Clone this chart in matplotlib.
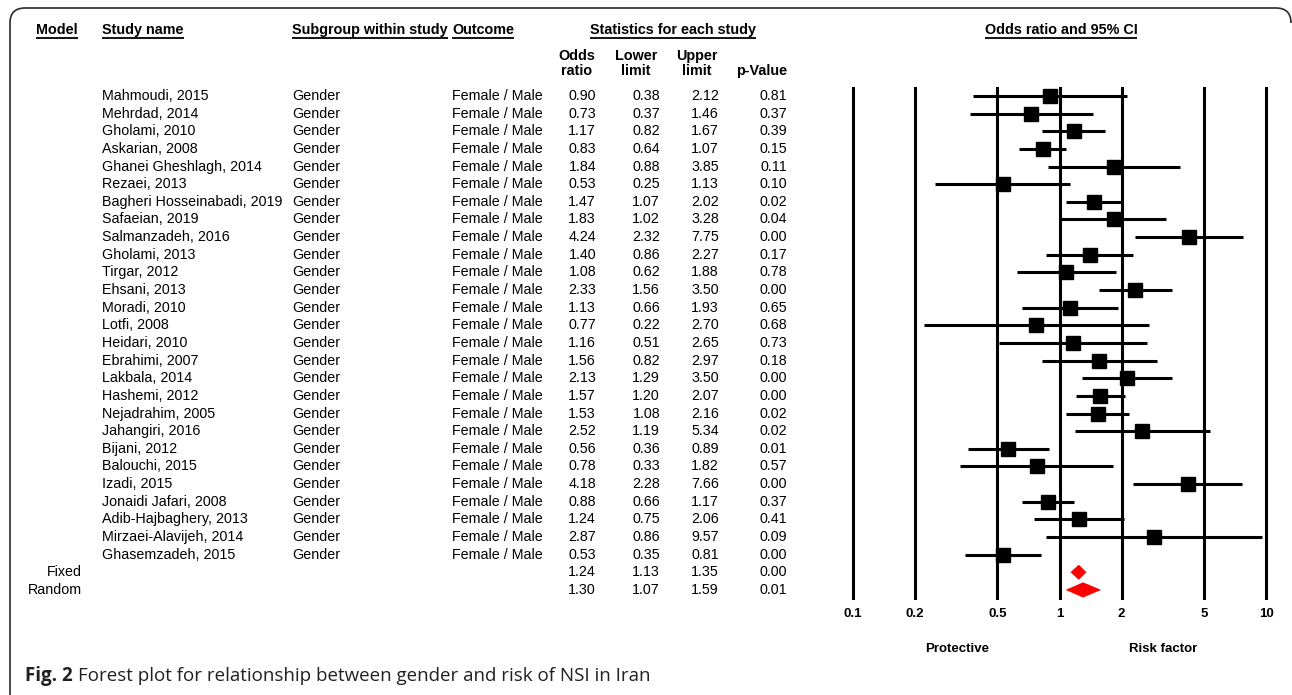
import numpy as np
import matplotlib
matplotlib.use("Agg")
import matplotlib.pyplot as plt
from matplotlib.patches import PathPatch, Polygon
from matplotlib.path import Path
from matplotlib.ticker import NullLocator

plt.rcParams["font.family"] = "Liberation Sans"

# ── study data ────────────────────────────────────────────────────────────────
studies = [
    "Mahmoudi, 2015", "Mehrdad, 2014", "Gholami, 2010", "Askarian, 2008",
    "Ghanei Gheshlagh, 2014", "Rezaei, 2013", "Bagheri Hosseinabadi, 2019",
    "Safaeian, 2019", "Salmanzadeh, 2016", "Gholami, 2013", "Tirgar, 2012",
    "Ehsani, 2013", "Moradi, 2010", "Lotfi, 2008", "Heidari, 2010",
    "Ebrahimi, 2007", "Lakbala, 2014", "Hashemi, 2012", "Nejadrahim, 2005",
    "Jahangiri, 2016", "Bijani, 2012", "Balouchi, 2015", "Izadi, 2015",
    "Jonaidi Jafari, 2008", "Adib-Hajbaghery, 2013", "Mirzaei-Alavijeh, 2014",
    "Ghasemzadeh, 2015",
]
subgroup = "Gender"
outcome = "Female / Male"
odds = [0.90, 0.73, 1.17, 0.83, 1.84, 0.53, 1.47, 1.83, 4.24, 1.40, 1.08,
        2.33, 1.13, 0.77, 1.16, 1.56, 2.13, 1.57, 1.53, 2.52, 0.56, 0.78,
        4.18, 0.88, 1.24, 2.87, 0.53]
lower = [0.38, 0.37, 0.82, 0.64, 0.88, 0.25, 1.07, 1.02, 2.32, 0.86, 0.62,
         1.56, 0.66, 0.22, 0.51, 0.82, 1.29, 1.20, 1.08, 1.19, 0.36, 0.33,
         2.28, 0.66, 0.75, 0.86, 0.35]
upper = [2.12, 1.46, 1.67, 1.07, 3.85, 1.13, 2.02, 3.28, 7.75, 2.27, 1.88,
         3.50, 1.93, 2.70, 2.65, 2.97, 3.50, 2.07, 2.16, 5.34, 0.89, 1.82,
         7.66, 1.17, 2.06, 9.57, 0.81]
pvals = [0.81, 0.37, 0.39, 0.15, 0.11, 0.10, 0.02, 0.04, 0.00, 0.17, 0.78,
         0.00, 0.65, 0.68, 0.73, 0.18, 0.00, 0.00, 0.02, 0.02, 0.01, 0.57,
         0.00, 0.37, 0.41, 0.09, 0.00]

models = ["Fixed", "Random"]
pooled_odds = [1.24, 1.30]
pooled_lower = [1.13, 1.07]
pooled_upper = [1.35, 1.59]
pooled_p = [0.00, 0.01]

tick_vals = [0.1, 0.2, 0.5, 1, 2, 5, 10]
tick_labels = ["0.1", "0.2", "0.5", "1", "2", "5", "10"]

# ── layout (pixels) ───────────────────────────────────────────────────────────
W, H = 1292, 695
ROW0, ROWH = 96, 17.64          # first row centre, row pitch
PX_L, PX_R = 853, 1266          # x of 0.1 and 10 on the plot
V_TOP, V_BOT = 88, 598          # vertical reference lines
FS = 10.3

fig = plt.figure(figsize=(W / 100, H / 100), dpi=100)
ax_t = fig.add_axes([0, 0, 1, 1])
ax_t.set_xlim(0, W)
ax_t.set_ylim(H, 0)
ax_t.axis("off")


def row_y(i):
    return ROW0 + i * ROWH


# open frame: left edge, top edge and the two rounded top corners
frame = Path(
    [(10, 700), (10, 23), (10, 8), (25, 8), (1276, 8), (1291, 8), (1291, 23)],
    [Path.MOVETO, Path.LINETO, Path.CURVE3, Path.CURVE3, Path.LINETO,
     Path.CURVE3, Path.CURVE3])
ax_t.add_patch(PathPatch(frame, fill=False, ec="#2a2a2a", lw=1.2))

# ── table headers ─────────────────────────────────────────────────────────────
hdr = dict(fontsize=10.4, fontweight="bold", va="center")
underlined = [
    ax_t.text(36, 30, "Model", ha="left", **hdr),
    ax_t.text(102, 30, "Study name", ha="left", **hdr),
    ax_t.text(292, 30, "Subgroup within study", ha="left", **hdr),
    ax_t.text(452, 30, "Outcome", ha="left", **hdr),
    ax_t.text(673, 30, "Statistics for each study", ha="center", **hdr),
    ax_t.text(1061, 30, "Odds ratio and 95% CI", ha="center", **hdr),
]
for x, top, bot in [(577, "Odds", "ratio"), (636, "Lower", "limit"),
                    (697, "Upper", "limit")]:
    ax_t.text(x, 56, top, ha="center", **hdr)
    ax_t.text(x, 71, bot, ha="center", **hdr)
ax_t.text(762, 71, "p-Value", ha="center", **hdr)

# ── table body ────────────────────────────────────────────────────────────────
num_x = [596, 660, 719, 787]
body = dict(fontsize=FS, va="center")
for i, name in enumerate(studies):
    y = row_y(i)
    ax_t.text(102, y, name, ha="left", **body)
    ax_t.text(292, y, subgroup, ha="left", **body)
    ax_t.text(452, y, outcome, ha="left", **body)
    for x, v in zip(num_x, [odds[i], lower[i], upper[i], pvals[i]]):
        ax_t.text(x, y, f"{v:.2f}", ha="right", **body)

for j, m in enumerate(models):
    y = row_y(len(studies) + j)
    ax_t.text(82, y, m, ha="right", **body)
    vals = [pooled_odds[j], pooled_lower[j], pooled_upper[j], pooled_p[j]]
    for x, v in zip(num_x, vals):
        ax_t.text(x, y, f"{v:.2f}", ha="right", **body)

# ── forest plot ───────────────────────────────────────────────────────────────
ax_f = fig.add_axes([PX_L / W, 1 - V_BOT / H, (PX_R - PX_L) / W,
                     (V_BOT - V_TOP) / H])
ax_f.set_xscale("log")
ax_f.set_xlim(0.1, 10)
ax_f.set_ylim((V_BOT - ROW0) / ROWH, (V_TOP - ROW0) / ROWH)
ax_f.patch.set_alpha(0)
for s in ax_f.spines.values():
    s.set_visible(False)

for t in tick_vals:
    ax_f.axvline(t, color="black", lw=2.2, clip_on=False, zorder=1)

rows = np.arange(len(studies))
ax_f.hlines(rows, lower, upper, color="black", lw=2.2, zorder=2,
            clip_on=False)
ax_f.plot(odds, rows, "s", color="black", ms=10, zorder=3, clip_on=False)

for j in range(len(models)):
    y = len(studies) + j
    h = 0.43
    ax_f.add_patch(Polygon([[pooled_lower[j], y], [pooled_odds[j], y - h],
                            [pooled_upper[j], y], [pooled_odds[j], y + h]],
                           closed=True, color="red", lw=0, zorder=3))

ax_f.set_yticks([])
ax_f.set_xticks(tick_vals)
ax_f.set_xticklabels(tick_labels, fontweight="bold", fontsize=9.5)
ax_f.xaxis.set_minor_locator(NullLocator())
ax_f.tick_params(axis="x", length=0, pad=7)

ax_t.text(957, 649, "Protective", ha="center", va="center",
          fontsize=9.5, fontweight="bold")
ax_t.text(1163, 649, "Risk factor", ha="center", va="center",
          fontsize=9.5, fontweight="bold")

# ── caption ───────────────────────────────────────────────────────────────────
cap = ax_t.text(25, 676, "Fig. 2", ha="left", va="center", fontsize=13.5,
                fontweight="bold", family="Open Sans", color="#231f20")

fig.canvas.draw()
renderer = fig.canvas.get_renderer()
inv = ax_t.transData.inverted()

bb = cap.get_window_extent(renderer)
x_end = inv.transform((bb.x1, bb.y0))[0]
ax_t.text(x_end + 5, 676, "Forest plot for relationship between gender and "
          "risk of NSI in Iran", ha="left", va="center", fontsize=13.5,
          family="Open Sans", color="#231f20")

# underline the header titles
for txt in underlined:
    bb = txt.get_window_extent(renderer)
    (x0, y0), (x1, _) = inv.transform([(bb.x0, bb.y0), (bb.x1, bb.y0)])
    ax_t.plot([x0, x1], [y0 + 1, y0 + 1], color="black", lw=1.3,
              solid_capstyle="butt")

fig.savefig("out.png", dpi=100)
